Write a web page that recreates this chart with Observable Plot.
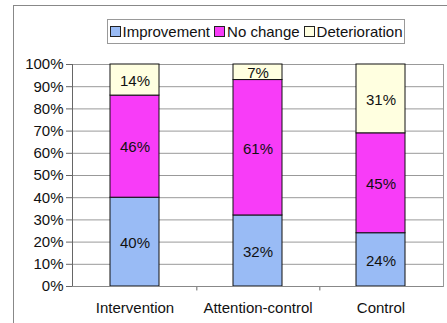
<!DOCTYPE html>
<html>
<head>
<meta charset="utf-8">
<script src="https://cdn.jsdelivr.net/npm/d3@7"></script>
<script src="https://cdn.jsdelivr.net/npm/@observablehq/plot@0.6"></script>
<style>
  html, body { margin: 0; padding: 0; background: #fff; }
  #wrap { position: relative; width: 447px; height: 323px; overflow: hidden; font-family: "Liberation Sans", Arial, sans-serif; }
  #frame { position: absolute; left: 13px; top: 5px; width: 460px; height: 340px; border-left: 1px solid #888; border-top: 1px solid #888; }
  #legend { position: absolute; left: 107px; top: 19px; width: 298px; height: 25px; border: 1px solid #999; box-sizing: border-box; display: flex; align-items: center; justify-content: center; font-size: 15px; color: #111; white-space: nowrap; background: #fff; }
  #legend .item { display: flex; align-items: center; margin: 0 2px; }
  #legend .sw { width: 11px; height: 11px; border: 1px solid #222; box-sizing: border-box; margin-right: 2px; }
  #chart { position: absolute; left: 0; top: 0; }
</style>
</head>
<body>
<div id="wrap">
  <div id="frame"></div>
  <div id="chart"></div>
  <div id="legend"></div>
</div>
<script>
const categories = ["Intervention", "Attention-control", "Control"];
const seriesNames = ["Improvement", "No change", "Deterioration"];
const improvement = [40, 32, 24];
const noChange = [46, 61, 45];
const deterioration = [14, 7, 31];
const colors = ["#99bbf5", "#f83cf8", "#ffffe0"];
const yTicks = [0, 10, 20, 30, 40, 50, 60, 70, 80, 90, 100];

const seriesValues = [improvement, noChange, deterioration];
const data = [];
categories.forEach((c, i) => {
  seriesNames.forEach((s, j) => {
    data.push({category: c, series: s, value: seriesValues[j][i]});
  });
});

const W = 447, ML = 72, MR = 4;
const xOpts = {type: "band", domain: categories, paddingInner: 0.6, paddingOuter: 0.3};
const xProbe = Plot.scale({x: {...xOpts, range: [ML, W - MR]}});
const step = xProbe.step;

const chart = Plot.plot({
  width: W,
  height: 323,
  marginLeft: ML,
  marginRight: MR,
  marginTop: 64,
  marginBottom: 37,
  style: {fontFamily: "Liberation Sans, Arial, sans-serif", fontSize: "15px", color: "#111", background: "transparent"},
  x: {...xOpts, label: null},
  y: {domain: [0, 100], ticks: yTicks, label: null},
  color: {domain: seriesNames, range: colors},
  marks: [
    Plot.gridY(yTicks, {stroke: "#999", strokeOpacity: 1, strokeWidth: 1}),
    Plot.frame({stroke: "#999", anchor: "right"}),
    Plot.frame({stroke: "#666", anchor: "left"}),
    Plot.barY(data, Plot.stackY({x: "category", y: "value", z: "series", fill: "series", stroke: "#111", strokeWidth: 1})),
    Plot.text(data, Plot.stackY({x: "category", y: "value", z: "series", text: d => d.value + "%", fill: "#111", fontSize: 15, dy: 1})),
    Plot.axisY({ticks: yTicks, tickFormat: d => d + "%", tickSize: 6, tickPadding: 3, stroke: "#666", fontSize: 15}),
    Plot.axisX({tickSize: 0, tickPadding: 16, fontSize: 15}),
    Plot.ruleX(categories.slice(0, 2), {x: d => d, y1: 0, y2: -2, dx: step / 2, stroke: "#666"}),
    Plot.ruleY([0], {stroke: "#888"})
  ]
});
document.getElementById("chart").appendChild(chart);

const legend = document.getElementById("legend");
seriesNames.forEach((s, j) => {
  const it = document.createElement("span");
  it.className = "item";
  const sw = document.createElement("span");
  sw.className = "sw";
  sw.style.background = colors[j];
  it.appendChild(sw);
  it.appendChild(document.createTextNode(s));
  legend.appendChild(it);
});
</script>
</body>
</html>
